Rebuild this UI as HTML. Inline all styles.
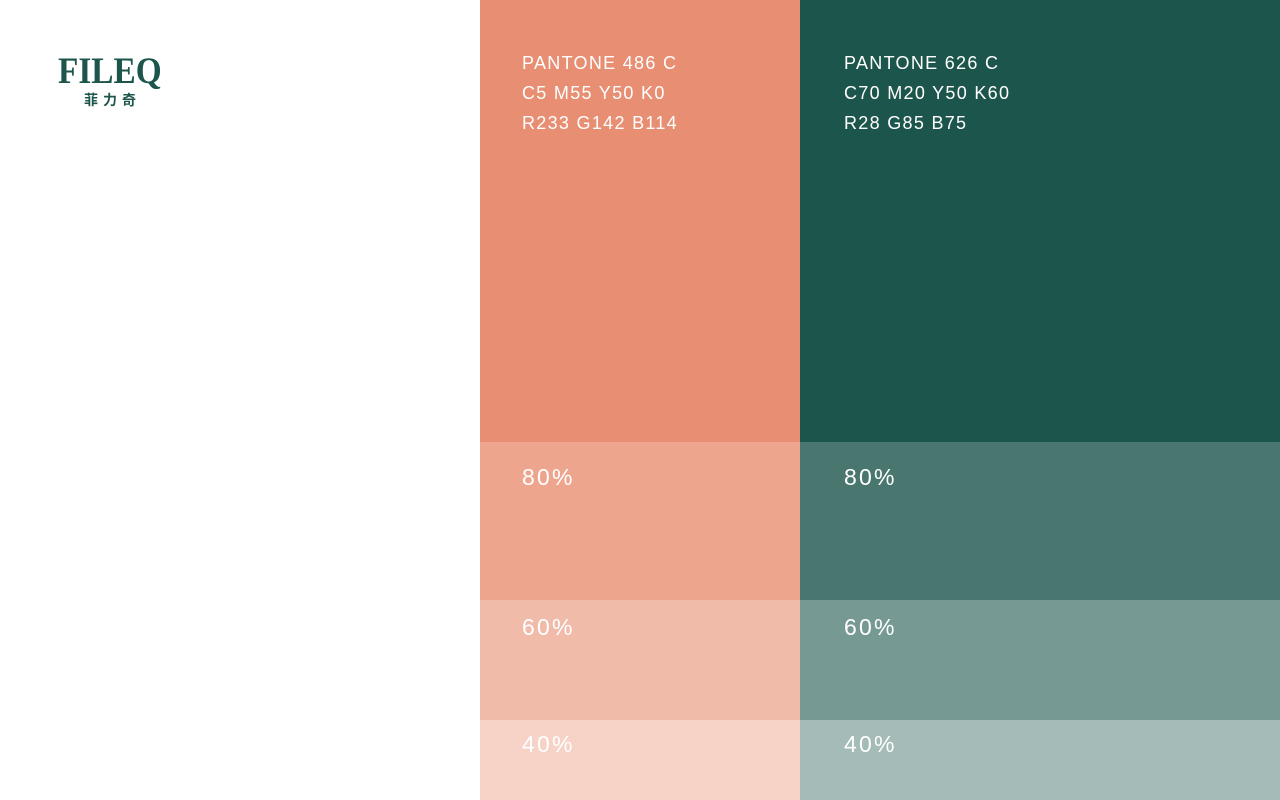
<!DOCTYPE html>
<html><head><meta charset="utf-8"><style>
body{margin:0;width:1280px;height:800px;position:relative;background:#fff;overflow:hidden;font-family:"Liberation Sans",sans-serif}
.b{position:absolute}
.t{position:absolute;color:#fff;font-size:18px;line-height:30px;letter-spacing:1.3px}
.p{position:absolute;color:#fff;font-size:23px;letter-spacing:2.2px}
</style></head><body>
<div class="b" style="left:480px;top:0;width:320px;height:442px;background:#E88E72"></div>
<div class="b" style="left:480px;top:442px;width:320px;height:158px;background:#E88E72;opacity:.8"></div>
<div class="b" style="left:480px;top:600px;width:320px;height:120px;background:#E88E72;opacity:.6"></div>
<div class="b" style="left:480px;top:720px;width:320px;height:80px;background:#E88E72;opacity:.4"></div>
<div class="b" style="left:800px;top:0;width:480px;height:442px;background:#1C554B"></div>
<div class="b" style="left:800px;top:442px;width:480px;height:158px;background:#1C554B;opacity:.8"></div>
<div class="b" style="left:800px;top:600px;width:480px;height:120px;background:#1C554B;opacity:.6"></div>
<div class="b" style="left:800px;top:720px;width:480px;height:80px;background:#1C554B;opacity:.4"></div>
<div class="t" style="left:522px;top:48px">PANTONE 486 C<br>C5 M55 Y50 K0<br>R233 G142 B114</div>
<div class="t" style="left:844px;top:48px">PANTONE 626 C<br>C70 M20 Y50 K60<br>R28 G85 B75</div>
<div class="p" style="left:522px;top:464px">80%</div>
<div class="p" style="left:522px;top:614px">60%</div>
<div class="p" style="left:522px;top:731px">40%</div>
<div class="p" style="left:844px;top:464px">80%</div>
<div class="p" style="left:844px;top:614px">60%</div>
<div class="p" style="left:844px;top:731px">40%</div>
<div class="b" style="left:58px;top:50px;font-family:'Liberation Serif',serif;font-weight:bold;font-size:37px;color:#1C554B;letter-spacing:0px;transform:scaleX(0.9);transform-origin:left">FILEQ</div>
<div class="b" style="left:84px;top:90px;font-family:'Liberation Sans','Noto Sans CJK SC',sans-serif;font-weight:bold;font-size:14px;color:#1C554B;letter-spacing:5px">菲力奇</div>
</body></html>
